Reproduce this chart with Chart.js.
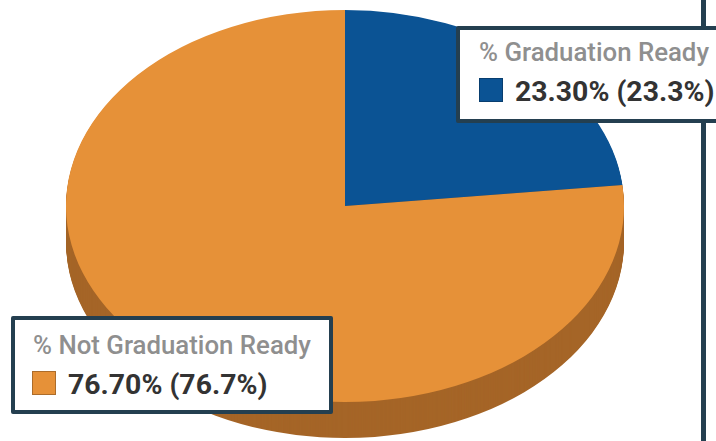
<!DOCTYPE html>
<html>
<head>
<meta charset="utf-8">
<title>Graduation Ready</title>
<script src="https://cdn.jsdelivr.net/npm/chart.js@4"></script>
<style>
html,body{margin:0;padding:0;background:#fff;overflow:hidden;}
#wrap{position:relative;width:716px;height:441px;overflow:hidden;font-family:Roboto,sans-serif;}
#linechart{position:absolute;left:0;top:0;}
#bar{position:absolute;left:701px;top:0;width:5px;height:441px;background:#243f50;}
.box{position:absolute;box-sizing:border-box;background:#fff;border:4px solid #243f50;border-radius:2px;white-space:nowrap;}
.box .t{position:absolute;font-size:25.8px;font-weight:500;color:#8f8f8f;line-height:28px;}
.box .v{position:absolute;font-size:28.4px;font-weight:700;color:#333;line-height:30px;}
.box .s{position:absolute;width:24px;height:24px;box-sizing:border-box;border:1px solid rgba(0,0,0,.25);}
</style>
</head>
<body>
<div id="wrap">
<div id="bar"></div>
<canvas id="linechart" width="716" height="441"></canvas>
</div>
<script>
var labels=["% Graduation Ready","% Not Graduation Ready"];
var values=[23.3,76.7];
var valueText=["23.30% (23.3%)","76.70% (76.7%)"];
var topColors=["#0b5394","#e69138"];
var wallColors=["#07396a","#a56527"];

var squash=196/279;
var depth=36;

// tilts the pie and paints the side wall under it
var tilt={
    id:"tilt",
    beforeDatasetDraw:function(chart,args){
        var ctx=chart.ctx;
        var arcs=chart.getDatasetMeta(args.index).data;
        for(var d=depth;d>0;d--){
            for(var i=0;i<arcs.length;i++){
                var a=arcs[i];
                ctx.beginPath();
                ctx.moveTo(a.x,a.y+d);
                ctx.ellipse(a.x,a.y+d,a.outerRadius,a.outerRadius*squash,0,a.startAngle,a.endAngle);
                ctx.closePath();
                ctx.fillStyle=wallColors[i];
                ctx.fill();
            }
        }
        ctx.save();
        ctx.translate(arcs[0].x,arcs[0].y);
        ctx.scale(1,squash);
        ctx.translate(-arcs[0].x,-arcs[0].y);
    },
    afterDatasetDraw:function(chart){
        chart.ctx.restore();
    }
};

var ctx=document.getElementById("linechart");
var pie=new Chart(ctx,{
    type:"pie",
    data:{
        labels:labels,
        datasets:[{
            data:values,
            backgroundColor:topColors,
            borderWidth:0,
            clip:false,
            radius:279
        }]
    },
    options:{
        responsive:false,
        animation:false,
        layout:{padding:{left:0,right:26,top:0,bottom:29}},
        plugins:{legend:{display:false},tooltip:{enabled:false}}
    },
    plugins:[tilt]
});

// the two callout boxes
var boxes=[
    {left:456,top:26,width:270,height:97,tx:19,ty:8,sx:19,sy:48,vx:55,vy:47},
    {left:11,top:316,width:322,height:98,tx:18,ty:11,sx:17,sy:51,vx:53,vy:50}
];
for(var i=0;i<boxes.length;i++){
    var b=boxes[i];
    var el=document.createElement("div");
    el.className="box";
    el.style.cssText="left:"+b.left+"px;top:"+b.top+"px;width:"+b.width+"px;height:"+b.height+"px";
    el.innerHTML='<div class="t" style="left:'+b.tx+'px;top:'+b.ty+'px">'+labels[i]+'</div>'
        +'<div class="s" style="left:'+b.sx+'px;top:'+b.sy+'px;background:'+topColors[i]+'"></div>'
        +'<div class="v" style="left:'+b.vx+'px;top:'+b.vy+'px">'+valueText[i]+'</div>';
    document.getElementById("wrap").appendChild(el);
}
</script>
</body>
</html>
